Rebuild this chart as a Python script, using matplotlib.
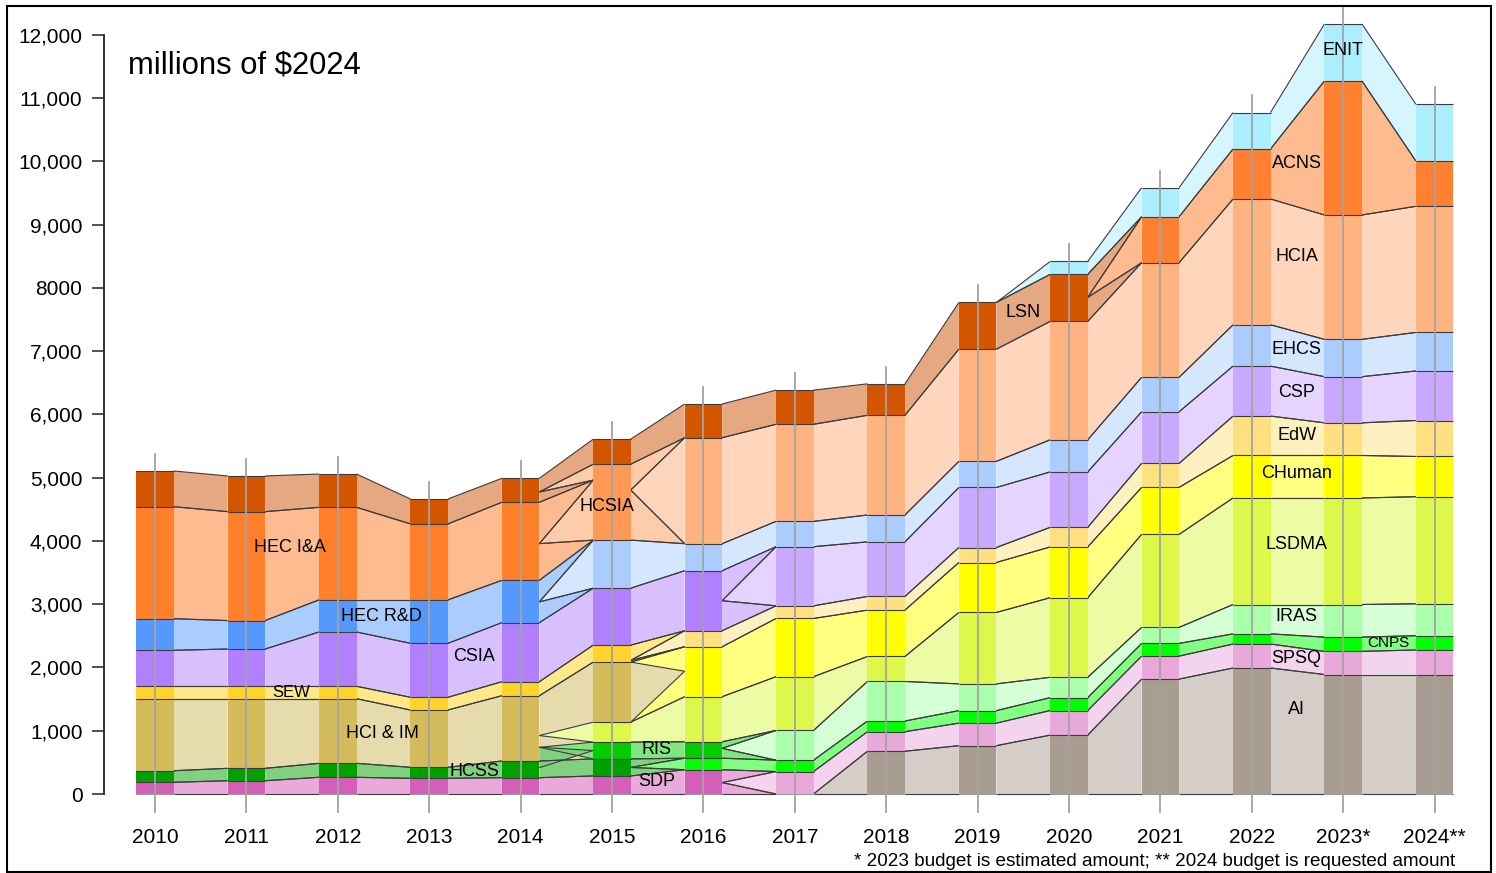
import matplotlib
matplotlib.use('Agg')
import matplotlib.pyplot as plt
from matplotlib.patches import Polygon, Rectangle

plt.rcParams['font.family'] = ['Liberation Sans', 'DejaVu Sans']

# ---- data (millions of $2024), years 2010..2024, None = PCA not in use ----
years = list(range(2010, 2025))
year_labels = [str(y) for y in range(2010, 2023)] + ['2023*', '2024**']

N = None
AI      = [N, N, N, N, N, N, N, N, 676, 764, 931, 1817, 1992, 1889, 1889]
SDP     = [185, 210, 264, 248, 258, 285, 384, N, N, N, N, N, N, N, N]
SPSQ    = [N, N, N, N, N, N, N, 355, 309, 356, 389, 363, 379, 366, 388]
HCSS    = [183, 196, 221, 174, 264, 270, N, N, N, N, N, N, N, N, N]
CNPS    = [N, N, N, N, N, N, 182, 180, 169, 198, 204, 201, 161, 225, 226]
RIS     = [N, N, N, N, N, 265, 260, N, N, N, N, N, N, N, N]
IRAS    = [N, N, N, N, N, N, N, 470, 625, 423, 321, 253, 464, 516, 504]
LSDMA   = [N, N, N, N, N, 316, 712, 850, 395, 1129, 1259, 1471, 1684, 1684, 1693]
HCIIM   = [1139, 1101, 1022, 906, 1032, 949, N, N, N, N, N, N, N, N, N]
CHUMAN  = [N, N, N, N, N, N, 790, 920, 733, 790, 802, 743, 672, 672, 636]
SEW     = [196, 196, 196, 201, 221, 269, N, N, N, N, N, N, N, N, N]
EDW     = [N, N, N, N, N, N, 253, 200, 216, 237, 310, 379, 623, 516, 569]
CSIA    = [569, 589, 858, 853, 934, 900, 949, N, N, N, N, N, N, N, N]
CSP     = [N, N, N, N, N, N, N, 935, 863, 949, 876, 816, 790, 730, 783]
HECRD   = [499, 450, 508, 687, 669, N, N, N, N, N, N, N, N, N, N]
EHCS    = [N, N, N, N, N, 760, 427, 400, 425, 413, 508, 545, 653, 590, 609]
HECIA   = [1771, 1722, 1463, 1201, 1234, N, N, N, N, N, N, N, N, N, N]
HCSIA   = [N, N, N, N, N, 1200, N, N, N, N, N, N, N, N, N]
HCIA    = [N, N, N, N, N, N, 1676, 1535, 1576, 1773, 1872, 1812, 1989, 1966, 1994]
LSN     = [565, 564, 527, 394, 379, 396, 533, 540, 498, 739, 744, N, N, N, N]
ACNS    = [N, N, N, N, N, N, N, N, N, N, N, 727, 791, 2119, 717]
ENIT    = [N, N, N, N, N, N, N, N, N, N, 204, 459, 576, 901, 897]

# stacking order, bottom to top
series = {
    'AI': AI, 'SDP': SDP, 'SPSQ': SPSQ, 'HCSS': HCSS, 'CNPS': CNPS, 'RIS': RIS,
    'IRAS': IRAS, 'LSDMA': LSDMA, 'HCI & IM': HCIIM, 'CHuman': CHUMAN, 'SEW': SEW,
    'EdW': EDW, 'CSIA': CSIA, 'CSP': CSP, 'HEC R&D': HECRD, 'EHCS': EHCS,
    'HEC I&A': HECIA, 'HCSIA': HCSIA, 'HCIA': HCIA, 'LSN': LSN, 'ACNS': ACNS,
    'ENIT': ENIT,
}

# (bar colour, band colour)
colors = {
    'AI': ('#a99c90', '#d5cdc7'), 'SDP': ('#d35fb8', '#e9aadb'),
    'SPSQ': ('#e8a9da', '#f3d3ee'), 'HCSS': ('#00a000', '#80d080'),
    'CNPS': ('#00ff00', '#80ff80'), 'RIS': ('#00cc00', '#80e680'),
    'IRAS': ('#aaffaa', '#d5ffd5'), 'LSDMA': ('#ddf84a', '#ecfca4'),
    'HCI & IM': ('#d4bc5c', '#e6dbac'), 'CHuman': ('#ffff00', '#ffff80'),
    'SEW': ('#ffd42a', '#ffe88a'), 'EdW': ('#ffe080', '#fff0c0'),
    'CSIA': ('#b080ff', '#d8c0ff'), 'CSP': ('#c9a9ff', '#e4d4ff'),
    'HEC R&D': ('#5599ff', '#aaccff'), 'EHCS': ('#aaccff', '#d5e6ff'),
    'HEC I&A': ('#ff7f2a', '#ffbb90'), 'HCSIA': ('#ff9955', '#ffccaa'),
    'HCIA': ('#ffb380', '#ffd5bb'), 'LSN': ('#d45500', '#e6a880'),
    'ACNS': ('#ff8030', '#ffbb90'), 'ENIT': ('#aaeeff', '#d5f6ff'),
}


def replace(old, new, f):
    # old PCA shrinks to the edges of the new one, new one grows from a point
    return [((old, f), (old, 1), (new, 1), (new, 1), old),
            ((old, 0), (old, f), (new, 0), (new, 0), old),
            ((old, f), (old, f), (new, 0), (new, 1), new)]


# special links between year i and i+1 (replace default same-name bands)
special = {
    4: ([(('LSN', 0.43), ('LSN', 1), ('LSN', 0), ('LSN', 1), 'LSN'),
         (('LSN', 0), ('LSN', 0.43), ('HCSIA', 0.79), ('HCSIA', 0.79), 'LSN'),
         (('HEC I&A', 0.47), ('HEC I&A', 1), ('HCSIA', 0.79), ('HCSIA', 0.79), 'HEC I&A'),
         (('HEC I&A', 0), ('HEC I&A', 0.47), ('HCSIA', 0), ('HCSIA', 0), 'HEC I&A'),
         (('LSN', 0.43), ('LSN', 0.43), ('HCSIA', 0.79), ('HCSIA', 1), 'HCSIA'),
         (('HEC I&A', 0.47), ('HEC I&A', 0.47), ('HCSIA', 0), ('HCSIA', 0.79), 'HCSIA')]
        + replace('HEC R&D', 'EHCS', 0.49)
        + [(('HCSS', 0), ('HCSS', 1), ('HCSS', 0), ('HCSS', 1), 'HCSS'),
           (('HCI & IM', 0), ('HCI & IM', 1), ('RIS', 0), ('HCI & IM', 1), 'HCI & IM'),
           (('HCI & IM', 0.39), ('HCI & IM', 0.39), ('LSDMA', 0), ('LSDMA', 1), 'LSDMA'),
           (('HCI & IM', 0.21), ('HCI & IM', 0.21), ('RIS', 0), ('RIS', 1), 'RIS'),
           (('HCSS', 0.6), ('HCI & IM', 0.21), ('RIS', 0.5), ('RIS', 0.5), 'HCSS')],
        {'LSN', 'HCSS', 'HCI & IM'}),
    5: (replace('HCSIA', 'HCIA', 0.66) + replace('SEW', 'EdW', 0.1)
        + [(('HCI & IM', 0), ('HCI & IM', 1), ('CHuman', 0), ('CHuman', 1), 'CHuman'),
           (('HCI & IM', 0), ('HCI & IM', 1), ('CHuman', 0.51), ('CHuman', 0.51), 'HCI & IM')]
        + replace('HCSS', 'CNPS', 0.5), set()),
    6: (replace('CSIA', 'CSP', 0.5) + replace('RIS', 'IRAS', 0.6)
        + replace('SDP', 'SPSQ', 0.47), set()),
    7: ([(('SPSQ', 0), ('SPSQ', 0), ('AI', 0), ('AI', 1), 'AI')], set()),
    9: ([(('LSN', 1), ('LSN', 1), ('ENIT', 0), ('ENIT', 1), 'ENIT')], set()),
    10: (replace('LSN', 'ACNS', 0.51), set()),
}

labels = [
    ('HEC I&A', 2011.48, 3890, 13), ('HEC R&D', 2012.48, 2800, 13),
    ('CSIA', 2013.49, 2180, 13), ('SEW', 2011.49, 1610, 12),
    ('HCI & IM', 2012.49, 960, 13), ('HCSS', 2013.49, 360, 13),
    ('HCSIA', 2014.95, 4550, 13), ('RIS', 2015.49, 710, 13),
    ('SDP', 2015.49, 190, 13), ('LSN', 2019.5, 7620, 13),
    ('ENIT', 2023.0, 11750, 13), ('ACNS', 2022.49, 9975, 13),
    ('HCIA', 2022.49, 8505, 13), ('EHCS', 2022.49, 7035, 13),
    ('CSP', 2022.49, 6355, 13), ('EdW', 2022.49, 5660, 13),
    ('CHuman', 2022.49, 5075, 13), ('LSDMA', 2022.49, 3950, 13),
    ('IRAS', 2022.49, 2800, 13), ('CNPS', 2023.49, 2390, 11),
    ('SPSQ', 2022.49, 2135, 13), ('AI', 2022.49, 1330, 13),
]

# ---- stack positions ----
bottoms = {k: [None] * len(years) for k in series}
totals = []
for i in range(len(years)):
    cum = 0
    for k, vals in series.items():
        if vals[i] is not None:
            bottoms[k][i] = cum
            cum += vals[i]
    totals.append(cum)


def pos(i, cat, f):
    return bottoms[cat][i] + f * series[cat][i]


fig = plt.figure(figsize=(14.96, 8.73), dpi=100)
W, H = 1496, 873
ax = fig.add_axes([104 / W, 53 / H, (1480 - 104) / W, 815 / H])
ax.set_xlim(2010 - 51 / 91.4, 2024 + 45.4 / 91.4)
ax.set_ylim(-411, 12474)

hw = 0.205
edge = dict(color='#3c3c3c', lw=0.8, solid_capstyle='butt')

for i in range(len(years) - 1):
    j = i + 1
    xl, xr = years[i] + hw, years[j] - hw
    flows, skip = special.get(i, ([], set()))
    base = []
    for k, vals in series.items():
        if vals[i] is not None and vals[j] is not None and k not in skip:
            if any(fl[0][0] == k and fl[2][0] == k for fl in flows):
                continue
            base.append(((k, 0), (k, 1), (k, 0), (k, 1), k))
    allf = base + flows
    segs = []
    for (l0, l1, r0, r1, ck) in allf:
        yl0, yl1 = pos(i, *l0), pos(i, *l1)
        yr0, yr1 = pos(j, *r0), pos(j, *r1)
        ax.add_patch(Polygon([(xl, yl0), (xr, yr0), (xr, yr1), (xl, yl1)],
                             closed=True, fc=colors[ck][1], ec='none', zorder=1))
        segs.append(((xl, xr), (yl0, yr0)))
        segs.append(((xl, xr), (yl1, yr1)))
    for xs, ys in segs:
        ax.plot(xs, ys, zorder=2, **edge)

# bars
for i, yr in enumerate(years):
    for k, vals in series.items():
        if vals[i] is None:
            continue
        ax.add_patch(Rectangle((yr - hw, bottoms[k][i]), 2 * hw, vals[i],
                               fc=colors[k][0], ec='none', zorder=3))
        ax.plot([yr - hw, yr + hw], [bottoms[k][i] + vals[i]] * 2, zorder=4, **edge)
    ax.plot([yr - hw, yr + hw], [0, 0], color='#999999', lw=0.8, zorder=4)

# grey year lines
for i, yr in enumerate(years):
    ax.plot([yr, yr], [-280, totals[i] + 270], color='#a3a3a3', lw=1.3, zorder=5)

for txt, x, y, fs in labels:
    ax.text(x, y, txt, fontsize=fs, ha='center', va='center', zorder=6)

# axes styling
for s in ['top', 'right', 'bottom']:
    ax.spines[s].set_visible(False)
ax.spines['left'].set_bounds(0, 12000)
ax.spines['left'].set_color('#333333')
ax.spines['left'].set_linewidth(1.4)
yt = list(range(0, 13000, 1000))
ylab = ['0', '1,000', '2,000', '3,000', '4,000', '5,000', '6,000', '7,000',
        '8000', '9,000', '10,000', '11,000', '12,000']
ax.set_yticks(yt, ylab)
ax.tick_params(axis='y', direction='out', length=8.5, width=1.2,
               color='#333333', labelsize=15, pad=7)
ax.set_xticks(years, year_labels)
ax.tick_params(axis='x', length=0, labelsize=15, pad=6)

fig.text(128 / W, 1 - 66 / H, 'millions of $2024', fontsize=22.3, va='center', ha='left')
fig.text(1455 / W, 1 - 862 / H,
         '* 2023 budget is estimated amount; ** 2024 budget is requested amount',
         fontsize=13.6, ha='right', va='center')
fig.patches.append(Rectangle((7 / W, 1 - 872 / H), (1491 - 7) / W, (872 - 6) / H,
                             transform=fig.transFigure, fill=False, lw=1.5, ec='black'))

fig.savefig('out.png', dpi=100)
